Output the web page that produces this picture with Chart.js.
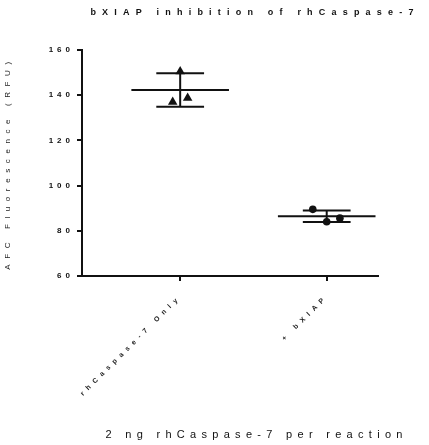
<!DOCTYPE html>
<html>
<head>
<meta charset="utf-8">
<script src="https://cdn.jsdelivr.net/npm/chart.js@4/dist/chart.umd.min.js"></script>
<style>
html,body{margin:0;padding:0;background:#fff;}
#wrap{width:429px;height:445px;}
</style>
</head>
<body>
<div id="wrap"><canvas id="c" width="429" height="445"></canvas></div>
<script>
// ---- data ----
const chartTitle = 'bXIAP inhibition of rhCaspase-7';
const xAxisTitle = '2 ng rhCaspase-7 per reaction';
const yAxisTitle = 'AFC Fluorescence (RFU)';
const categories = ['rhCaspase-7 Only', '+ bXIAP'];
const yTicks = [60, 80, 100, 120, 140, 160];
const group1Values = [150.5, 137, 138.8];   // triangles
const group1Jitter = [0, -0.051, 0.051];
const group2Values = [89.5, 84.0, 85.6];    // circles
const group2Jitter = [-0.095, 0, 0.09];
const means = [142.3, 86.4];
const errors = [7.4, 2.55];

const meanHalf = 0.333, capHalf = 0.163;
const black = '#111';
const FAM = '"Liberation Sans", Arial, sans-serif';

function points(vals, jit, cat) {
  return vals.map((v, i) => ({x: cat + jit[i], y: v}));
}
const lineDatasets = [];
means.forEach((m, i) => {
  const e = errors[i];
  const segs = [
    [{x: i - meanHalf, y: m}, {x: i + meanHalf, y: m}],
    [{x: i - capHalf, y: m + e}, {x: i + capHalf, y: m + e}],
    [{x: i - capHalf, y: m - e}, {x: i + capHalf, y: m - e}],
    [{x: i, y: m - e}, {x: i, y: m + e}]
  ];
  segs.forEach(s => lineDatasets.push({
    type: 'line', data: s, borderColor: black, borderWidth: 2,
    pointRadius: 0, fill: false, tension: 0, order: 2
  }));
});

// letter spacing per scale part
const SP = {x: {labels: '5px', title: '0px'}, y: {labels: '4px', title: '5.6px'}};
const P = Chart.Scale.prototype;
const oL = P.drawLabels, oT = P.drawTitle;
P.drawLabels = function (a) { const c = this.ctx; c.save(); c.letterSpacing = (SP[this.id] || {}).labels || '0px'; oL.call(this, a); c.restore(); };
P.drawTitle = function (a) { const c = this.ctx; c.save(); c.letterSpacing = (SP[this.id] || {}).title || '0px'; oT.call(this, a); c.restore(); };

const textPlugin = {
  id: 'texts',
  afterDraw(chart) {
    const c = chart.ctx;
    c.save();
    c.fillStyle = '#111';
    c.textAlign = 'center';
    c.textBaseline = 'middle';
    c.letterSpacing = '6.2px';
    c.font = 'bold 9px ' + FAM;
    c.fillText(chartTitle, 252 + 3, 13);
    c.letterSpacing = '5.3px';
    c.font = '11px ' + FAM;
    c.fillText(xAxisTitle, 254 + 2.6, 435);
    c.restore();
  }
};

new Chart(document.getElementById('c'), {
  type: 'scatter',
  data: {
    datasets: [
      {data: points(group1Values, group1Jitter, 0), pointStyle: 'triangle', pointRadius: 5.5,
       backgroundColor: black, borderColor: black, borderWidth: 0, order: 1},
      {data: points(group2Values, group2Jitter, 1), pointStyle: 'circle', pointRadius: 3.8,
       backgroundColor: black, borderColor: black, borderWidth: 0, order: 1},
      ...lineDatasets
    ]
  },
  options: {
    responsive: false,
    animation: false,
    layout: {padding: {top: 50, right: 51, bottom: 0, left: 0}},
    plugins: {legend: {display: false}, tooltip: {enabled: false}, title: {display: false}},
    scales: {
      x: {
        type: 'linear', min: -0.67, max: 1.35,
        afterBuildTicks: s => { s.ticks = categories.map((_, i) => ({value: i})); },
        afterFit: s => { s.height = 169; },
        grid: {drawOnChartArea: false, drawTicks: true, tickLength: 5, color: black, lineWidth: 2},
        border: {display: true, color: black, width: 2},
        ticks: {
          callback: v => categories[v] !== undefined ? categories[v] : '',
          minRotation: 45, maxRotation: 45, autoSkip: false, padding: 12,
          color: '#222', font: {family: FAM, size: 7, weight: 'bold'}
        },
        title: {display: false}
      },
      y: {
        min: 60, max: 160,
        afterBuildTicks: s => { s.ticks = yTicks.map(v => ({value: v})); },
        afterFit: s => { s.width = 82; },
        grid: {drawOnChartArea: false, drawTicks: true, tickLength: 5, color: black, lineWidth: 2},
        border: {display: true, color: black, width: 2},
        ticks: {padding: 3, color: '#111', font: {family: FAM, size: 8, weight: 'bold'}},
        title: {display: true, text: yAxisTitle, color: '#222', padding: {top: 3, bottom: 0},
          font: {family: FAM, size: 8}}
      }
    }
  },
  plugins: [textPlugin]
});
</script>
</body>
</html>
